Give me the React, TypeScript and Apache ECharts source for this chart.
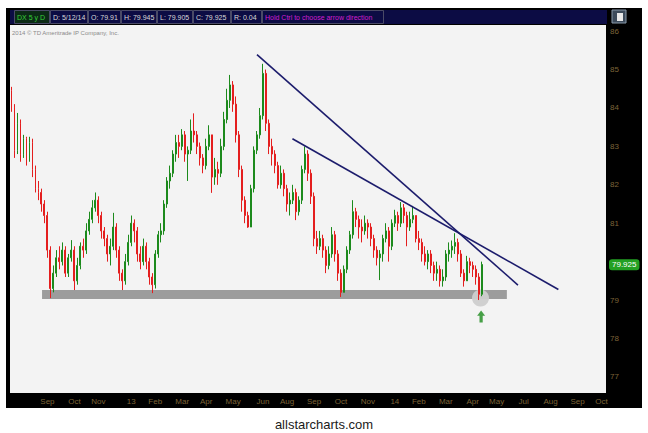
import React, { useEffect, useRef } from "react";
import * as echarts from "echarts";

// ---- data (aggregated ~3 trading days per candle) ----
const firstOpen = 84.45;
const closes = [
  84.0, 82.9, 83.6, 82.8, 83.2, 82.7, 83.1, 82.4, 81.9, 81.8,
  81.5, 81.2, 80.3, 79.3, 79.7, 80.1, 80.0, 80.3, 79.7, 80.1,
  80.3, 79.5, 79.9, 80.4, 80.3, 80.8, 81.1, 81.4, 81.6, 81.2,
  80.8, 80.6, 80.2, 80.4, 80.9, 80.3, 79.7, 79.5, 80.0, 80.5,
  81.0, 80.8, 80.2, 80.0, 80.4, 80.0, 79.6, 79.4, 80.2, 80.7,
  80.8, 81.5, 82.1, 82.3, 82.8, 83.1, 83.0, 83.3, 82.8, 82.9,
  83.4, 83.3, 83.0, 82.7, 82.5, 83.0, 83.3, 82.2, 82.4, 82.3,
  83.0, 83.7, 84.2, 84.6, 84.1, 83.3, 82.4, 81.6, 81.2, 80.9,
  81.9, 82.9, 83.3, 83.8, 84.9, 83.6, 83.0, 82.8, 82.5, 82.0,
  82.3, 81.9, 81.5, 81.6, 81.8, 81.3, 81.6, 82.4, 82.8, 82.3,
  81.7, 80.6, 80.4, 80.6, 80.3, 79.9, 80.2, 80.7, 80.2, 79.7,
  79.2, 79.8, 80.3, 80.7, 81.3, 81.1, 80.9, 80.8, 81.0, 80.9,
  80.6, 80.3, 80.1, 80.2, 80.6, 80.8, 80.4, 81.0, 81.2, 81.0,
  81.4, 81.2, 80.9, 81.1, 81.2, 80.6, 80.5, 80.2, 80.0, 80.2,
  79.9, 79.7, 79.8, 79.5, 79.6, 80.2, 80.3, 80.4, 80.5, 80.2,
  79.7, 79.5, 80.0, 79.9, 79.8, 79.6, 79.15, 79.925,
];
const highs = [
  84.55, 84.1, 83.87, 83.7, 83.3, 83.25, 83.25, 83.2, 82.5, 82.1,
  81.9, 81.6, 81.3, 80.4, 79.9, 80.3, 80.4, 80.5, 80.4, 80.2,
  80.56, 80.4, 80.1, 80.5, 80.6, 81.0, 81.3, 81.6, 81.8, 81.7,
  81.3, 80.9, 80.7, 80.6, 81.27, 81.0, 80.4, 79.8, 80.2, 80.7,
  81.2, 81.1, 80.9, 80.4, 80.6, 80.5, 80.1, 79.7, 80.3, 80.8,
  81.0, 81.6, 82.2, 82.5, 82.9, 83.3, 83.3, 83.45, 83.4, 83.0,
  83.7, 83.86, 83.4, 83.1, 82.8, 83.2, 83.55, 83.3, 82.7, 82.6,
  83.2, 83.9, 84.5, 84.86, 84.7, 84.3, 83.4, 82.5, 81.7, 81.3,
  82.0, 83.0, 83.4, 84.0, 85.15, 85.0, 83.7, 83.2, 82.9, 82.6,
  82.5, 82.4, 82.0, 81.8, 82.0, 81.9, 81.7, 82.5, 83.0, 82.9,
  82.4, 81.8, 80.8, 80.8, 80.7, 80.4, 80.4, 80.9, 80.8, 80.3,
  79.8, 79.9, 80.4, 80.8, 81.6, 81.4, 81.2, 81.1, 81.2, 81.1,
  81.0, 80.7, 80.4, 80.3, 80.7, 81.0, 80.9, 81.1, 81.35, 81.3,
  81.55, 81.5, 81.3, 81.3, 81.45, 81.2, 80.8, 80.6, 80.4, 80.3,
  80.3, 80.0, 80.0, 79.9, 79.8, 80.3, 80.5, 80.55, 80.74, 80.6,
  80.3, 79.8, 80.15, 80.1, 80.0, 79.9, 79.7, 80.0,
];
const lows = [
  83.9, 82.7, 82.8, 82.6, 82.7, 82.5, 82.6, 82.2, 81.8, 81.6,
  81.3, 81.0, 80.1, 79.05, 79.2, 79.6, 79.8, 79.9, 79.6, 79.6,
  80.0, 79.26, 79.4, 79.8, 80.1, 80.2, 80.7, 81.0, 81.3, 81.0,
  80.6, 80.4, 80.0, 79.9, 80.3, 80.1, 79.5, 79.26, 79.4, 79.9,
  80.4, 80.5, 80.0, 79.8, 79.9, 79.8, 79.4, 79.18, 79.3, 80.1,
  80.5, 80.7, 81.4, 81.9, 82.2, 82.6, 82.7, 82.9, 82.6, 82.1,
  82.8, 83.1, 82.8, 82.5, 82.3, 82.4, 82.9, 81.79, 82.0, 82.0,
  82.2, 82.9, 83.6, 84.0, 83.9, 83.1, 82.2, 81.3, 81.0, 80.88,
  80.9, 81.8, 82.8, 83.2, 83.7, 83.4, 82.8, 82.5, 82.3, 81.9,
  81.9, 81.7, 81.3, 81.2, 81.5, 81.08, 81.2, 81.5, 82.3, 82.1,
  81.5, 80.4, 80.2, 80.3, 80.1, 79.7, 79.8, 80.1, 80.0, 79.5,
  79.08, 79.2, 79.7, 80.2, 80.6, 80.9, 80.6, 80.5, 80.7, 80.6,
  80.4, 80.1, 79.9, 79.52, 80.0, 80.5, 80.0, 80.3, 80.9, 80.8,
  80.9, 81.0, 80.4, 80.8, 81.0, 80.5, 80.3, 80.0, 79.9, 79.8,
  79.7, 79.5, 79.5, 79.35, 79.35, 79.5, 80.0, 80.1, 80.2, 80.0,
  79.6, 79.35, 79.5, 79.7, 79.6, 79.4, 79.0, 79.1,
];

const slotCount = 199;
const tickLabels = ["Sep", "Oct", "Nov", "13", "Feb", "Mar", "Apr", "May", "Jun", "Aug", "Sep", "Oct", "Nov", "14", "Feb", "Mar", "Apr", "May", "Jul", "Aug", "Sep", "Oct"];
const tickSlots = [12, 21, 29, 40, 48, 57, 65, 74, 84, 92, 101, 110, 119, 128, 136, 145, 154, 162, 171, 180, 189, 197];

// trend lines, support band, marker (slot, price)
const trendLine1 = [[81.97, 85.39], [169.1, 79.39]];
const trendLine2 = [[93.8, 83.2], [182.6, 79.275]];
const supportBand = [[10.2, 79.145], [165.4, 79.145]];
const lowMarker = [[156.6, 79.05]];
const arrowMarker = [[156.8, 78.57]];
const lastClose = 79.925;

const headerCells = [
  { text: "DX 5 y D", x0: 14, x1: 50, color: "#36d136", bg: "#0c2a16" },
  { text: "D: 5/12/14", x0: 50, x1: 88, color: "#d8d8d8", bg: "" },
  { text: "O: 79.91", x0: 88, x1: 121, color: "#d8d8d8", bg: "" },
  { text: "H: 79.945", x0: 121, x1: 157, color: "#d8d8d8", bg: "" },
  { text: "L: 79.905", x0: 157, x1: 193, color: "#d8d8d8", bg: "" },
  { text: "C: 79.925", x0: 193, x1: 231, color: "#d8d8d8", bg: "" },
  { text: "R: 0.04", x0: 231, x1: 262, color: "#d8d8d8", bg: "" },
  { text: "Hold Ctrl to choose arrow direction", x0: 262, x1: 384, color: "#d01ed0", bg: "" },
];

const FONT = "'Liberation Sans', Arial, sans-serif";
const AXIS_TEXT = "#7d6438";

export default function App() {
  const ref = useRef<HTMLDivElement>(null);
  useEffect(() => {
    if (!ref.current) return;
    const chart = echarts.init(ref.current, undefined, { renderer: "svg" });
    const slotNames = Array.from({ length: slotCount }, (_, i) => String(i));
    const candleData = closes.map((c, i) => [i === 0 ? firstOpen : closes[i - 1], c, lows[i], highs[i]]);

    const headerGraphics: any[] = [];
    headerCells.forEach((c) => {
      headerGraphics.push({
        type: "rect",
        z: 5,
        shape: { x: c.x0 + 0.5, y: 10.5, width: c.x1 - c.x0 - 1, height: 13 },
        style: { fill: c.bg || "rgba(0,0,0,0)", stroke: "#4a4a66", lineWidth: 1 },
      });
      headerGraphics.push({
        type: "text",
        z: 6,
        x: c.x0 + 3,
        y: 17.5,
        style: { text: c.text, fill: c.color, font: `7px ${FONT}`, textVerticalAlign: "middle" },
      });
    });

    chart.setOption({
      animation: false,
      grid: { left: 10, top: 25, right: 42, bottom: 40, containLabel: false },
      xAxis: [
        {
          type: "category",
          data: slotNames,
          boundaryGap: true,
          axisLine: { show: false },
          axisTick: { show: false },
          splitLine: { show: false },
          axisLabel: {
            interval: (idx: number) => tickSlots.includes(idx),
            formatter: (_v: string, idx: number) => {
              const k = tickSlots.indexOf(idx);
              return k >= 0 ? tickLabels[k] : "";
            },
            color: AXIS_TEXT,
            fontSize: 8,
            fontFamily: FONT,
            margin: 4,
          },
        },
        { type: "value", min: -0.5, max: slotCount - 0.5, show: false },
      ],
      yAxis: {
        type: "value",
        position: "right",
        min: 76.58,
        max: 86.16,
        splitNumber: 10,
        minInterval: 1,
        maxInterval: 1,
        axisLine: { show: false },
        axisTick: { show: false },
        splitLine: { show: false },
        axisLabel: {
          showMinLabel: false,
          showMaxLabel: false,
          formatter: (v: number) => (Math.abs(v - 80) < 1e-6 ? "" : String(v)),
          color: AXIS_TEXT,
          fontSize: 8,
          fontFamily: FONT,
          margin: 4,
        },
      },
      graphic: [
        { type: "rect", z: -2, shape: { x: 6, y: 8, width: 636, height: 400 }, style: { fill: "#000" } },
        { type: "rect", z: -1, shape: { x: 10, y: 25, width: 596, height: 368 }, style: { fill: "#f3f3f3" } },
        { type: "rect", z: 4, shape: { x: 10, y: 10, width: 597, height: 14 }, style: { fill: "#0c0c44" } },
        ...headerGraphics,
        { type: "rect", z: 5, shape: { x: 612, y: 10, width: 14, height: 13 }, style: { fill: "#3c4a5a", stroke: "#8899aa", lineWidth: 1 } },
        { type: "rect", z: 6, shape: { x: 617, y: 13, width: 6, height: 8 }, style: { fill: "#e8e8e8" } },
        {
          type: "text",
          z: 5,
          x: 12,
          y: 33,
          style: { text: "2014 © TD Ameritrade IP Company, Inc.", fill: "#8a8a8a", font: `6px ${FONT}`, textVerticalAlign: "middle" },
        },
        {
          type: "text",
          z: 5,
          x: 324,
          y: 424,
          style: { text: "allstarcharts.com", fill: "#1a1a1a", font: `13px ${FONT}`, textAlign: "center", textVerticalAlign: "middle" },
        },
      ],
      series: [
        {
          type: "line",
          xAxisIndex: 1,
          data: supportBand,
          symbol: "none",
          silent: true,
          z: 1,
          lineStyle: { color: "#9c9c9c", width: 9, cap: "butt" },
        },
        {
          type: "scatter",
          xAxisIndex: 1,
          data: lowMarker,
          symbol: "circle",
          symbolSize: 17,
          silent: true,
          z: 2,
          itemStyle: { color: "#cdcdcd", opacity: 0.95 },
        },
        {
          type: "candlestick",
          xAxisIndex: 0,
          data: candleData,
          barWidth: 1.4,
          z: 3,
          itemStyle: {
            color: "#1c8a1c",
            color0: "#e41e1e",
            borderColor: "#1c8a1c",
            borderColor0: "#e41e1e",
            borderWidth: 1,
          },
        },
        {
          type: "line",
          xAxisIndex: 1,
          data: trendLine1,
          symbol: "none",
          silent: true,
          z: 5,
          lineStyle: { color: "#1c1c6c", width: 1.6 },
          markLine: {
            silent: true,
            symbol: ["none", "none"],
            lineStyle: { color: "rgba(0,0,0,0)", width: 0 },
            label: {
              show: true,
              position: "end",
              distance: 3,
              formatter: String(lastClose),
              color: "#ffffff",
              backgroundColor: "#23a023",
              borderRadius: 3,
              padding: [2, 3, 1, 3],
              fontSize: 8,
              fontFamily: FONT,
            },
            data: [{ yAxis: lastClose }],
          },
        },
        {
          type: "line",
          xAxisIndex: 1,
          data: trendLine2,
          symbol: "none",
          silent: true,
          z: 5,
          lineStyle: { color: "#1c1c6c", width: 1.6 },
        },
        {
          type: "scatter",
          xAxisIndex: 1,
          data: arrowMarker,
          symbol: "path://M5,0 L10,5.5 L7,5.5 L7,13 L3,13 L3,5.5 L0,5.5 Z",
          symbolSize: [8, 12],
          silent: true,
          z: 5,
          itemStyle: { color: "#1a8a1a" },
        },
      ],
    });
    return () => chart.dispose();
  }, []);
  return (
    <div
      ref={ref}
      style={{ position: "fixed", left: 0, top: 0, width: 648, height: 433, background: "#ffffff" }}
    />
  );
}
